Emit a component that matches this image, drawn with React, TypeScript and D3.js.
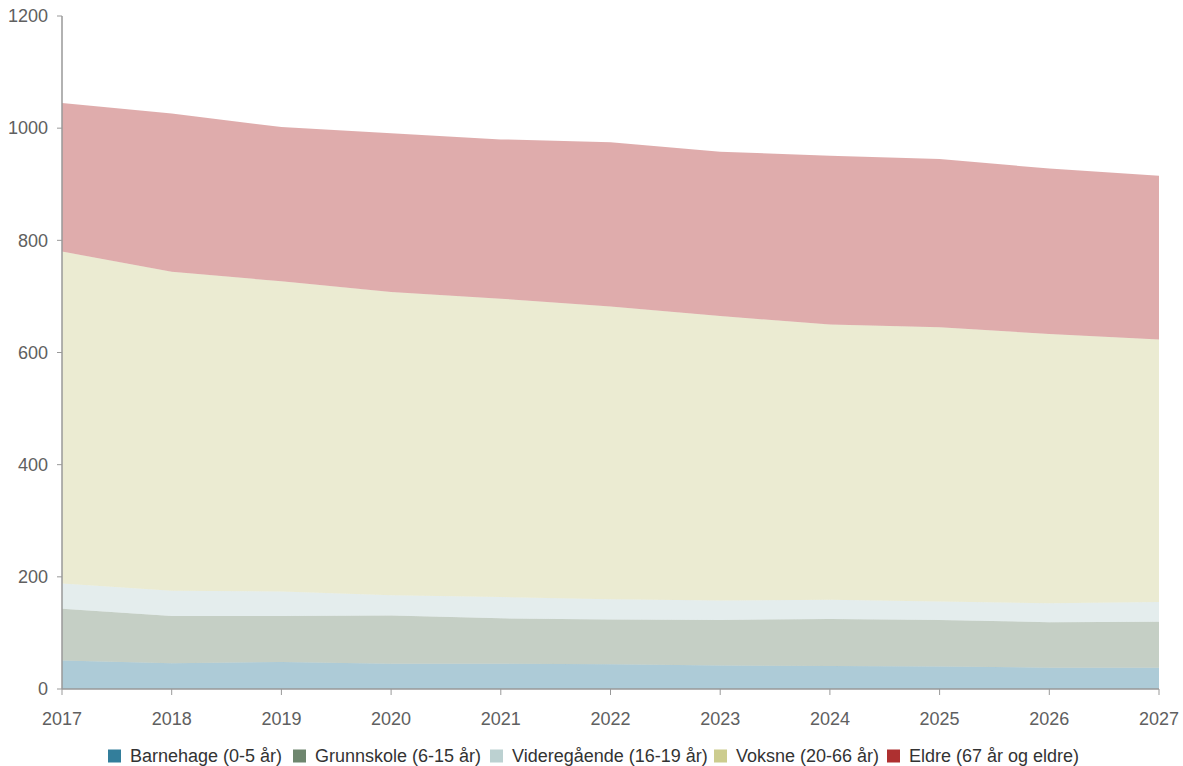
import React from "react";
import * as d3 from "d3";

const years = [2017, 2018, 2019, 2020, 2021, 2022, 2023, 2024, 2025, 2026, 2027];
const barnehage = [51, 46, 48, 45, 45, 44, 42, 41, 40, 38, 38];
const grunnskole = [92, 84, 82, 86, 81, 80, 81, 84, 83, 81, 82];
const videregaende = [45, 45, 44, 36, 38, 36, 35, 34, 33, 34, 35];
const voksne = [592, 569, 553, 541, 532, 522, 507, 491, 489, 480, 468];
const eldre = [265, 282, 275, 283, 284, 293, 293, 301, 300, 295, 292];
const yTicks = [0, 200, 400, 600, 800, 1000, 1200];

const seriesDefs = [
  { key: "b", name: "Barnehage (0-5 år)", values: barnehage, color: "#337E9B" },
  { key: "g", name: "Grunnskole (6-15 år)", values: grunnskole, color: "#6E866E" },
  { key: "v", name: "Videregående (16-19 år)", values: videregaende, color: "#BCD1D1" },
  { key: "a", name: "Voksne (20-66 år)", values: voksne, color: "#CCCC8E" },
  { key: "e", name: "Eldre (67 år og eldre)", values: eldre, color: "#AE3030" },
];

const W = 1183;
const H = 766;
const M = { left: 62, right: 24, top: 16, bottom: 77 };

export default function App() {
  const x = d3.scaleLinear().domain([2017, 2027]).range([M.left, W - M.right]);
  const y = d3.scaleLinear().domain([0, 1200]).range([H - M.bottom, M.top]);

  const table = years.map((yr, i) => {
    const row: any = { year: yr };
    seriesDefs.forEach((s) => (row[s.key] = s.values[i]));
    return row;
  });
  const stacked = d3.stack().keys(seriesDefs.map((s) => s.key))(table);
  const area = d3
    .area<any>()
    .x((d) => x(d.data.year))
    .y0((d) => y(d[0]))
    .y1((d) => y(d[1]));

  const axisColor = "#999";
  const textColor = "#606060";
  const font = "'Liberation Sans', Arial, sans-serif";

  const legendX = [108, 293, 490, 714, 887];

  return (
    <svg
      width={W}
      height={H}
      style={{ position: "absolute", left: 0, top: 0, fontFamily: font }}
    >
      <rect width={W} height={H} fill="#fff" />
      {stacked.map((layer, i) => (
        <path
          key={seriesDefs[i].key}
          d={area(layer as any) || ""}
          fill={seriesDefs[i].color}
          fillOpacity={0.4}
        />
      ))}
      {/* y axis */}
      <line x1={M.left} x2={M.left} y1={y(1200)} y2={y(0)} stroke={axisColor} strokeWidth={1.5} />
      {yTicks.map((t) => (
        <g key={t}>
          <line x1={M.left - 5} x2={M.left} y1={y(t)} y2={y(t)} stroke={axisColor} />
          <text
            x={M.left - 14}
            y={y(t)}
            dy="0.35em"
            textAnchor="end"
            fontSize={18}
            fill={textColor}
          >
            {t}
          </text>
        </g>
      ))}
      {/* x axis */}
      <line x1={M.left} x2={W - M.right} y1={y(0)} y2={y(0)} stroke={axisColor} strokeWidth={1.5} />
      {years.map((yr) => (
        <g key={yr}>
          <line x1={x(yr)} x2={x(yr)} y1={y(0)} y2={y(0) + 6} stroke={axisColor} />
          <text x={x(yr)} y={y(0) + 36} textAnchor="middle" fontSize={18} fill={textColor}>
            {yr}
          </text>
        </g>
      ))}
      {/* legend */}
      {seriesDefs.map((s, i) => (
        <g key={s.key} transform={`translate(${legendX[i]},756)`}>
          <rect x={0} y={-6.5} width={13} height={13} fill={s.color} />
          <text x={22} y={0} dy="0.35em" fontSize={18} fill="#333">
            {s.name}
          </text>
        </g>
      ))}
    </svg>
  );
}
